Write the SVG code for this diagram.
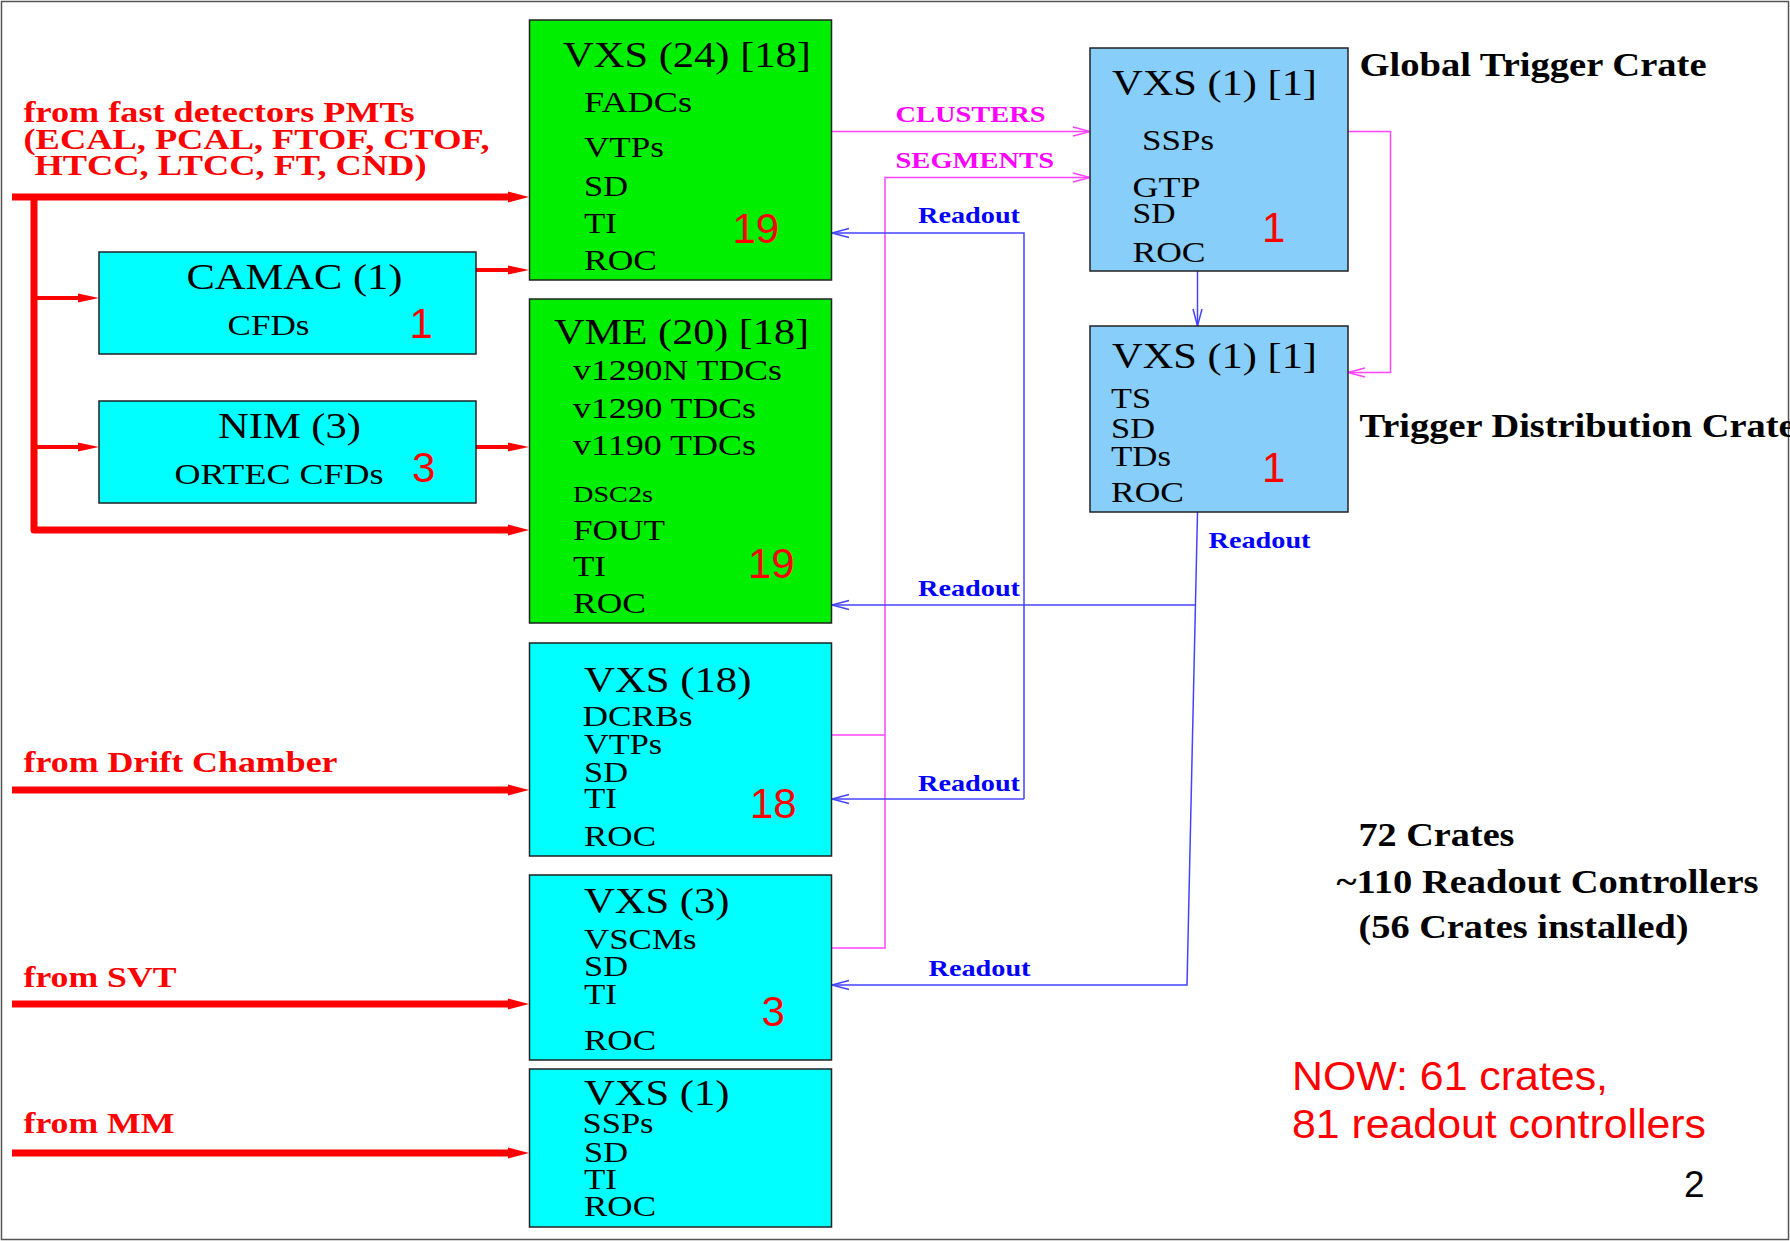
<svg xmlns="http://www.w3.org/2000/svg" width="1790" height="1241" viewBox="0 0 1790 1241">
<style>
.frame{fill:none;stroke:#555;stroke-width:1.5}
.box{stroke:#222;stroke-width:1.5}
.green{fill:#00ee00}
.cyan{fill:#00ffff}
.sky{fill:#87cefa}
.t{font-family:"Liberation Serif","Times New Roman",serif;fill:#000}
.title{font-size:35px}
.item{font-size:29px}
.small{font-size:23px}
.num{font-family:"Liberation Sans",Arial,sans-serif;font-size:42px;fill:#ff0000}
.lbl{font-family:"Liberation Serif","Times New Roman",serif;font-weight:bold;font-size:30px;fill:#ff0000}
.mag{font-family:"Liberation Serif","Times New Roman",serif;font-weight:bold;font-size:24px;fill:#ff00ff}
.blu{font-family:"Liberation Serif","Times New Roman",serif;font-weight:bold;font-size:24px;fill:#0000ff}
.note{font-family:"Liberation Serif","Times New Roman",serif;font-weight:bold;font-size:33px;fill:#000}
.now{font-family:"Liberation Sans",Arial,sans-serif;font-size:40px;fill:#ff0000}
.thick{stroke:#ff0000;stroke-width:7;fill:none;stroke-linejoin:round}
.thin{stroke:#ff0000;stroke-width:4;fill:none}
.ml{stroke:#ff44ff;stroke-width:1.5;fill:none}
.bl{stroke:#4444ff;stroke-width:1.5;fill:none}
</style>
<defs>
<marker id="ahThick" markerUnits="userSpaceOnUse" viewBox="0 0 22 14" markerWidth="22" markerHeight="14" refX="4" refY="7" orient="auto"><path d="M0,1.5 L21,7 L0,12.5 z" fill="#ff0000"/></marker>
<marker id="ahThin" markerUnits="userSpaceOnUse" viewBox="0 0 22 10" markerWidth="22" markerHeight="10" refX="8" refY="5" orient="auto"><path d="M0,0.5 L21,5 L0,9.5 z" fill="#ff0000"/></marker>
<marker id="ahBlue" markerUnits="userSpaceOnUse" viewBox="0 0 20 12" markerWidth="20" markerHeight="12" refX="18" refY="6" orient="auto" overflow="visible"><path d="M1,1.5 L18,6 L1,10.5" fill="none" stroke="#4444ff" stroke-width="1.5"/></marker>
<marker id="ahMag" markerUnits="userSpaceOnUse" viewBox="0 0 20 12" markerWidth="20" markerHeight="12" refX="18" refY="6" orient="auto" overflow="visible"><path d="M1,1.5 L18,6 L1,10.5" fill="none" stroke="#ff44ff" stroke-width="1.5"/></marker>
</defs>
<rect x="0" y="0" width="1790" height="1241" fill="#fff"/>
<rect class="frame" x="1.5" y="1.5" width="1787" height="1238"/>

<g id="connectors">
<path class="thick" d="M12,197 H512" marker-end="url(#ahThick)"/>
<path class="thick" d="M34,197 V530 H512" marker-end="url(#ahThick)"/>
<path class="thin" d="M34,298 H86" marker-end="url(#ahThin)"/>
<path class="thin" d="M34,447 H86" marker-end="url(#ahThin)"/>
<path class="thin" d="M476,270 H516" marker-end="url(#ahThin)"/>
<path class="thin" d="M476,447 H516" marker-end="url(#ahThin)"/>
<path class="thick" d="M12,790 H512" marker-end="url(#ahThick)"/>
<path class="thick" d="M12,1004 H512" marker-end="url(#ahThick)"/>
<path class="thick" d="M12,1153 H512" marker-end="url(#ahThick)"/>
<path class="ml" d="M832,131.5 H1090" marker-end="url(#ahMag)"/>
<path class="ml" d="M832,948 H885 V177.5 H1090" marker-end="url(#ahMag)"/>
<path class="ml" d="M832,735 H885"/>
<path class="ml" d="M1348,131.5 H1390.5 V372.5 H1348" marker-end="url(#ahMag)"/>
<path class="bl" d="M1197.5,271 V326" marker-end="url(#ahBlue)"/>
<path class="bl" d="M1024,799 V233 H832" marker-end="url(#ahBlue)"/>
<path class="bl" d="M1024,799 H832" marker-end="url(#ahBlue)"/>
<path class="bl" d="M1197.5,512 L1187,985 H832" marker-end="url(#ahBlue)"/>
<path class="bl" d="M1195.5,605 H832" marker-end="url(#ahBlue)"/>
<text class="mag" x="895.5" y="121.5" textLength="150" lengthAdjust="spacingAndGlyphs">CLUSTERS</text>
<text class="mag" x="895.5" y="168" textLength="158.5" lengthAdjust="spacingAndGlyphs">SEGMENTS</text>
<text class="blu" x="918" y="223" textLength="102" lengthAdjust="spacingAndGlyphs">Readout</text>
<text class="blu" x="1208.5" y="548" textLength="102" lengthAdjust="spacingAndGlyphs">Readout</text>
<text class="blu" x="918" y="596" textLength="102" lengthAdjust="spacingAndGlyphs">Readout</text>
<text class="blu" x="918" y="790.5" textLength="102" lengthAdjust="spacingAndGlyphs">Readout</text>
<text class="blu" x="928.5" y="976" textLength="102" lengthAdjust="spacingAndGlyphs">Readout</text>
</g>

<g id="labels">
<text class="lbl" x="23.5" y="122" textLength="391" lengthAdjust="spacingAndGlyphs">from fast detectors PMTs</text>
<text class="lbl" x="23.5" y="148.5" textLength="466" lengthAdjust="spacingAndGlyphs">(ECAL, PCAL, FTOF, CTOF,</text>
<text class="lbl" x="34.5" y="175" textLength="392" lengthAdjust="spacingAndGlyphs">HTCC, LTCC, FT, CND)</text>
<text class="lbl" x="23.5" y="771.5" textLength="314" lengthAdjust="spacingAndGlyphs">from Drift Chamber</text>
<text class="lbl" x="23.5" y="986.5" textLength="153" lengthAdjust="spacingAndGlyphs">from SVT</text>
<text class="lbl" x="23.5" y="1133" textLength="151" lengthAdjust="spacingAndGlyphs">from MM</text>
<text class="note" x="1359.5" y="76" textLength="347" lengthAdjust="spacingAndGlyphs">Global Trigger Crate</text>
<text class="note" x="1359.5" y="436.5" textLength="436" lengthAdjust="spacingAndGlyphs">Trigger Distribution Crate</text>
<text class="note" x="1358.5" y="846" textLength="156" lengthAdjust="spacingAndGlyphs">72 Crates</text>
<text class="note" x="1336.5" y="893" textLength="422" lengthAdjust="spacingAndGlyphs">~110 Readout Controllers</text>
<text class="note" x="1358.5" y="938" textLength="330" lengthAdjust="spacingAndGlyphs">(56 Crates installed)</text>
<text class="now" x="1292" y="1090" textLength="316" lengthAdjust="spacingAndGlyphs">NOW: 61 crates,</text>
<text class="now" x="1292" y="1138" textLength="414" lengthAdjust="spacingAndGlyphs">81 readout controllers</text>
<text class="now" x="1684" y="1197" style="font-size:37px;fill:#000">2</text>
</g>

<g id="crate-fadc">
<rect class="box green" x="529.5" y="20" width="302" height="260"/>
<text class="t title" x="563" y="66.5" textLength="248" lengthAdjust="spacingAndGlyphs">VXS (24) [18]</text>
<text class="t item" x="584" y="111.5" textLength="108" lengthAdjust="spacingAndGlyphs">FADCs</text>
<text class="t item" x="584" y="157" textLength="80" lengthAdjust="spacingAndGlyphs">VTPs</text>
<text class="t item" x="584" y="196" textLength="44" lengthAdjust="spacingAndGlyphs">SD</text>
<text class="t item" x="584" y="233" textLength="33" lengthAdjust="spacingAndGlyphs">TI</text>
<text class="t item" x="584" y="270" textLength="73" lengthAdjust="spacingAndGlyphs">ROC</text>
<text class="num" x="732.5" y="243">19</text>
</g>

<g id="crate-camac">
<rect class="box cyan" x="99" y="252" width="377" height="102"/>
<text class="t title" x="186.5" y="288.5" textLength="216" lengthAdjust="spacingAndGlyphs">CAMAC (1)</text>
<text class="t item" x="227.5" y="335" textLength="82" lengthAdjust="spacingAndGlyphs">CFDs</text>
<text class="num" x="409.5" y="338">1</text>
</g>

<g id="crate-nim">
<rect class="box cyan" x="99" y="401" width="377" height="102"/>
<text class="t title" x="218" y="437.5" textLength="143" lengthAdjust="spacingAndGlyphs">NIM (3)</text>
<text class="t item" x="174.5" y="483.5" textLength="209" lengthAdjust="spacingAndGlyphs">ORTEC CFDs</text>
<text class="num" x="412" y="482">3</text>
</g>

<g id="crate-vme">
<rect class="box green" x="529.5" y="299" width="302" height="324"/>
<text class="t title" x="554" y="343.5" textLength="255" lengthAdjust="spacingAndGlyphs">VME (20) [18]</text>
<text class="t item" x="573" y="380" textLength="209" lengthAdjust="spacingAndGlyphs">v1290N TDCs</text>
<text class="t item" x="573" y="417.5" textLength="183" lengthAdjust="spacingAndGlyphs">v1290 TDCs</text>
<text class="t item" x="573" y="455" textLength="183" lengthAdjust="spacingAndGlyphs">v1190 TDCs</text>
<text class="t small" x="573" y="501.5" textLength="80" lengthAdjust="spacingAndGlyphs">DSC2s</text>
<text class="t item" x="573" y="539.5" textLength="92" lengthAdjust="spacingAndGlyphs">FOUT</text>
<text class="t item" x="573" y="576" textLength="33" lengthAdjust="spacingAndGlyphs">TI</text>
<text class="t item" x="573" y="612.5" textLength="73" lengthAdjust="spacingAndGlyphs">ROC</text>
<text class="num" x="748" y="578">19</text>
</g>

<g id="crate-dc">
<rect class="box cyan" x="529.5" y="643" width="302" height="213"/>
<text class="t title" x="584" y="691.5" textLength="167.5" lengthAdjust="spacingAndGlyphs">VXS (18)</text>
<text class="t item" x="582.5" y="726" textLength="110" lengthAdjust="spacingAndGlyphs">DCRBs</text>
<text class="t item" x="584" y="754" textLength="78" lengthAdjust="spacingAndGlyphs">VTPs</text>
<text class="t item" x="584" y="781.5" textLength="44" lengthAdjust="spacingAndGlyphs">SD</text>
<text class="t item" x="584" y="808" textLength="33" lengthAdjust="spacingAndGlyphs">TI</text>
<text class="t item" x="584" y="845.5" textLength="72" lengthAdjust="spacingAndGlyphs">ROC</text>
<text class="num" x="750" y="818">18</text>
</g>

<g id="crate-svt">
<rect class="box cyan" x="529.5" y="875" width="302" height="185"/>
<text class="t title" x="584" y="913" textLength="145.5" lengthAdjust="spacingAndGlyphs">VXS (3)</text>
<text class="t item" x="584" y="948.5" textLength="112.5" lengthAdjust="spacingAndGlyphs">VSCMs</text>
<text class="t item" x="584" y="975.5" textLength="44" lengthAdjust="spacingAndGlyphs">SD</text>
<text class="t item" x="584" y="1003.5" textLength="33" lengthAdjust="spacingAndGlyphs">TI</text>
<text class="t item" x="584" y="1049.5" textLength="72" lengthAdjust="spacingAndGlyphs">ROC</text>
<text class="num" x="761.5" y="1026">3</text>
</g>

<g id="crate-mm">
<rect class="box cyan" x="529.5" y="1069" width="302" height="158"/>
<text class="t title" x="584" y="1105" textLength="145.5" lengthAdjust="spacingAndGlyphs">VXS (1)</text>
<text class="t item" x="582.5" y="1133" textLength="71" lengthAdjust="spacingAndGlyphs">SSPs</text>
<text class="t item" x="584" y="1162" textLength="44" lengthAdjust="spacingAndGlyphs">SD</text>
<text class="t item" x="584" y="1188.5" textLength="33" lengthAdjust="spacingAndGlyphs">TI</text>
<text class="t item" x="584" y="1216" textLength="72" lengthAdjust="spacingAndGlyphs">ROC</text>
</g>

<g id="crate-gtc">
<rect class="box sky" x="1090" y="48" width="258" height="223"/>
<text class="t title" x="1112" y="94.5" textLength="205" lengthAdjust="spacingAndGlyphs">VXS (1) [1]</text>
<text class="t item" x="1142" y="149.5" textLength="72" lengthAdjust="spacingAndGlyphs">SSPs</text>
<text class="t item" x="1132.5" y="196.5" textLength="68" lengthAdjust="spacingAndGlyphs">GTP</text>
<text class="t item" x="1132.5" y="223" textLength="43" lengthAdjust="spacingAndGlyphs">SD</text>
<text class="t item" x="1132.5" y="262" textLength="73" lengthAdjust="spacingAndGlyphs">ROC</text>
<text class="num" x="1262" y="242">1</text>
</g>

<g id="crate-tdc">
<rect class="box sky" x="1090" y="326" width="258" height="186"/>
<text class="t title" x="1112" y="368" textLength="205" lengthAdjust="spacingAndGlyphs">VXS (1) [1]</text>
<text class="t item" x="1111" y="408" textLength="40" lengthAdjust="spacingAndGlyphs">TS</text>
<text class="t item" x="1111" y="437.5" textLength="44" lengthAdjust="spacingAndGlyphs">SD</text>
<text class="t item" x="1111" y="465.5" textLength="60" lengthAdjust="spacingAndGlyphs">TDs</text>
<text class="t item" x="1111" y="502" textLength="73" lengthAdjust="spacingAndGlyphs">ROC</text>
<text class="num" x="1262" y="482">1</text>
</g>
</svg>
